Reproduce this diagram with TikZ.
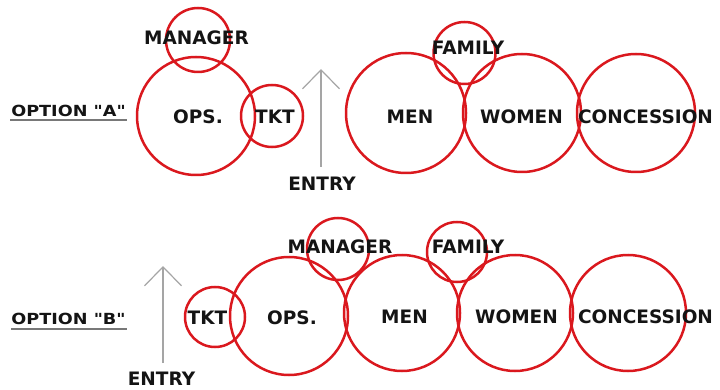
\documentclass[tikz,border=0pt]{standalone}
\usepackage{fontspec}
\usetikzlibrary{arrows.meta}
\newfontfamily\zonefont{DejaVu Sans}
\definecolor{zonered}{RGB}{218,24,30}
\definecolor{inkgray}{RGB}{20,20,20}
\definecolor{entrygray}{RGB}{165,165,165}
\definecolor{rulegray}{RGB}{120,120,120}
\begin{document}
\begin{tikzpicture}[x=1pt,y=-1pt,
  zone/.style={circle,draw=zonered,line width=2.5pt,inner sep=0pt,minimum size=#1},
  tag/.style={font=\zonefont\bfseries\fontsize{18.5}{20}\selectfont,text=inkgray,inner sep=0pt},
  optlabel/.style={font=\zonefont\bfseries\fontsize{18}{20}\selectfont,text=inkgray,inner sep=0pt},
  optrule/.style={draw=rulegray,line width=1.3pt},
  entryarrow/.style={draw=entrygray,line width=1.2pt,-{Straight Barb[length=19pt,width=37pt,line width=1.2pt]}}]
\useasboundingbox (0,0) rectangle (720,390);

% ---- option A ----
\node[zone=118pt] (opsA) at (196,116) {};
\node[zone=64pt]  (mgrA) at (198,40) {};
\node[zone=62pt]  (tktA) at (272,116) {};
\node[zone=120pt] (menA) at (406,113) {};
\node[zone=118pt] (womA) at (522,113) {};
\node[zone=118pt] (conA) at (636,113) {};
\node[zone=62pt]  (famA) at (464.5,53) {};

\node[tag] (tMgrA) at (196.5,38) {MANAGER};
\node[tag] (tOpsA) at (198,117) {OPS.};
\node[tag] (tTktA) at (275,117) {TKT};
\node[tag] (tFamA) at (468,48) {FAMILY};
\node[tag] (tMenA) at (410,117) {MEN};
\node[tag] (tWomA) at (521.5,117) {WOMEN};
\node[tag] (tConA) at (645.5,117) {CONCESSION};

\node[optlabel] (optA) at (68.5,111) {\scalebox{0.98}[0.85]{OPTION "A"}};
\coordinate (ruleAl) at (10,120);
\coordinate (ruleAr) at (127,120);
\draw[optrule] (ruleAl) -- (ruleAr);

\coordinate (entryAfoot) at (321,167);
\coordinate (entryAtip) at (321,69);
\draw[entryarrow] (entryAfoot) -- (entryAtip);
\node[tag] (tEntA) at (322,184) {ENTRY};

% ---- option B ----
\node[zone=60pt]  (tktB) at (215,317) {};
\node[zone=118pt] (opsB) at (289,316) {};
\node[zone=62pt]  (mgrB) at (338,249) {};
\node[zone=116pt] (menB) at (402,313) {};
\node[zone=60pt]  (famB) at (457,252) {};
\node[zone=116pt] (womB) at (515,313) {};
\node[zone=116pt] (conB) at (628,313) {};

\node[tag] (tTktB) at (207.5,318) {TKT};
\node[tag] (tOpsB) at (292,318) {OPS.};
\node[tag] (tMgrB) at (340,247) {MANAGER};
\node[tag] (tFamB) at (468,247) {FAMILY};
\node[tag] (tMenB) at (404.5,317) {MEN};
\node[tag] (tWomB) at (516.5,317) {WOMEN};
\node[tag] (tConB) at (645.5,317) {CONCESSION};

\node[optlabel] (optB) at (68.5,319) {\scalebox{0.98}[0.85]{OPTION "B"}};
\coordinate (ruleBl) at (11,329);
\coordinate (ruleBr) at (127,329);
\draw[optrule] (ruleBl) -- (ruleBr);

\coordinate (entryBfoot) at (163,363);
\coordinate (entryBtip) at (163,266);
\draw[entryarrow] (entryBfoot) -- (entryBtip);
\node[tag] (tEntB) at (161.5,379) {ENTRY};
\end{tikzpicture}
\end{document}
